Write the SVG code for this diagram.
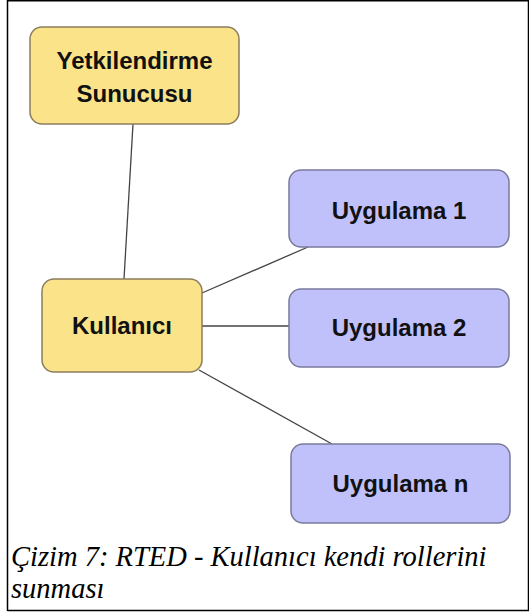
<svg xmlns="http://www.w3.org/2000/svg" width="529" height="613" viewBox="0 0 529 613">
  <style>
    .auth { fill: #fae389; stroke: #8c7d5c; stroke-width: 1.5; }
    .app { fill: #c0c0fb; stroke: #7a7a9c; stroke-width: 1.5; }
    .label { font-family: "Liberation Sans", Arial, sans-serif; font-weight: bold; font-size: 24px; fill: #111; text-anchor: middle; }
    .link { stroke: #444; stroke-width: 1.3; fill: none; }
    .caption { font-family: "Liberation Serif", "Times New Roman", serif; font-style: italic; font-size: 28.5px; fill: #000; }
  </style>

  <rect x="0" y="0" width="529" height="613" fill="#fff"/>
  <!-- frame -->
  <path d="M7.5 611 V0.75 H528.5 V610.5 H7.5" fill="none" stroke="#000" stroke-width="1.5"/>

  <g id="connectors">
    <line class="link" x1="133" y1="124" x2="124" y2="279"/>
    <line class="link" x1="202" y1="293" x2="308" y2="247"/>
    <line class="link" x1="202" y1="326" x2="289" y2="326"/>
    <line class="link" x1="199" y1="370" x2="332" y2="444"/>
  </g>

  <g id="auth-server">
    <rect class="auth" x="30" y="27" width="209" height="97" rx="12"/>
    <text class="label" x="134.5" y="69">Yetkilendirme</text>
    <text class="label" x="134.5" y="102">Sunucusu</text>
  </g>

  <g id="user">
    <rect class="auth" x="42" y="279" width="160" height="93" rx="12"/>
    <text class="label" x="122" y="334">Kullanıcı</text>
  </g>

  <g id="app1">
    <rect class="app" x="289" y="170" width="220" height="77" rx="12"/>
    <text class="label" x="399" y="219">Uygulama 1</text>
  </g>

  <g id="app2">
    <rect class="app" x="289" y="289" width="220" height="78" rx="12"/>
    <text class="label" x="399" y="336">Uygulama 2</text>
  </g>

  <g id="appn">
    <rect class="app" x="291" y="444" width="219" height="79" rx="12"/>
    <text class="label" x="400.5" y="492">Uygulama n</text>
  </g>

  <text class="caption" x="11" y="566">Çizim 7: RTED - Kullanıcı kendi rollerini</text>
  <text class="caption" x="11" y="598">sunması</text>
</svg>
